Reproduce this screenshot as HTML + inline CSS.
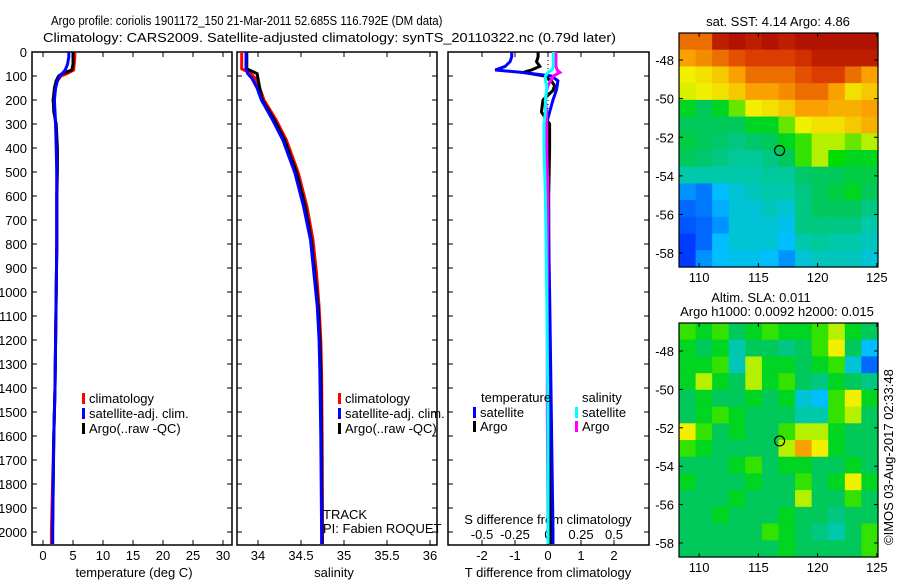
<!DOCTYPE html>
<html><head><meta charset="utf-8"><style>
html,body{margin:0;padding:0;background:#fff;}
svg text{font-family:"Liberation Sans",sans-serif;font-size:13px;fill:#000;}
</style></head><body>
<svg id="fig" width="900" height="580" viewBox="0 0 900 580" xmlns="http://www.w3.org/2000/svg">
<rect width="900" height="580" fill="#fff"/>
<text x="0" y="0" transform="translate(51,25) scale(0.88,1)">Argo profile: coriolis 1901172_150 21-Mar-2011 52.685S 116.792E (DM data)</text>
<text x="43" y="42" textLength="573" lengthAdjust="spacingAndGlyphs">Climatology: CARS2009. Satellite-adjusted climatology: synTS_20110322.nc (0.79d later)</text>
<g id="layer"></g>
</svg>
<script>
// ---- profile data ----
const depths = [0,20,50,75,90,100,120,150,200,250,300,400,500,600,800,1000,1200,1400,1600,1800,2000,2050];
const tempClim = [5.3,5.3,5.2,5.1,4.0,3.0,2.4,2.0,1.7,1.9,2.1,2.3,2.3,2.3,2.3,2.2,2.1,2.0,1.8,1.6,1.4,1.4];
const tempSat  = [4.3,4.3,4.1,3.7,3.2,2.8,2.4,2.1,1.9,2.0,2.1,2.2,2.3,2.3,2.3,2.2,2.1,2.0,1.8,1.7,1.6,1.6];
const tempArgo = [5.0,5.0,5.0,4.8,3.2,2.6,2.2,1.9,1.7,1.8,2.2,2.4,2.4,2.3,2.3,2.2,2.1,2.0,1.8,1.7,1.6,1.6];
const salDepths = [0,30,70,90,110,150,200,283,367,505,645,783,922,1062,1200,1340,1600,2000,2050];
const salClim = [33.81,33.81,33.81,33.92,33.97,34.02,34.07,34.21,34.33,34.47,34.57,34.64,34.68,34.71,34.73,34.74,34.745,34.75,34.75];
const salSat  = [33.86,33.86,33.86,33.88,33.93,33.99,34.04,34.17,34.29,34.43,34.53,34.61,34.65,34.69,34.71,34.72,34.73,34.74,34.74];
const salArgo = [33.87,33.87,33.87,33.99,34.0,34.02,34.05,34.19,34.31,34.45,34.55,34.62,34.66,34.70,34.72,34.73,34.74,34.745,34.745];
const diffDepths = [0,20,40,60,75,85,100,120,140,160,200,250,300,350,400,600,1000,1500,2000,2050];
const diffTSat  = [-1.1,-1.1,-1.15,-1.3,-1.6,-0.8,0.1,0.3,0.28,0.25,0.15,0.05,-0.05,-0.1,-0.05,0,0.05,0.1,0.15,0.15];
const diffTArgo = [-0.3,-0.3,-0.35,-0.25,-0.5,-0.75,-0.1,0.1,0.2,0.15,-0.15,-0.2,0.05,0.05,0.05,0.02,0.03,0.05,0.08,0.08];
const diffSSat  = [0.04,0.04,0.04,0.04,0.03,0.0,-0.02,-0.02,-0.01,-0.01,-0.02,-0.02,-0.03,-0.03,-0.03,-0.02,-0.01,0,0,0];
const diffSArgo = [0.06,0.06,0.06,0.06,0.07,0.09,0.04,0.02,0.0,-0.01,-0.02,-0.01,-0.01,-0.01,-0.01,0,-0.005,-0.005,0,0];
const depthTicks = [0,100,200,300,400,500,600,700,800,900,1000,1100,1200,1300,1400,1500,1600,1700,1800,1900,2000];
const tempTicks = [0,5,10,15,20,25,30];
const salTicks = [34,34.5,35,35.5,36];
const salTickLabels = ["34","34.5","35","35.5","36"];
const tdiffTicks = [-2,-1,0,1,2];
const sdiffTicks = [-0.5,-0.25,0,0.25,0.5];
const sdiffTickLabels = ["-0.5","-0.25","0","0.25","0.5"];
// ---- map data (0..1 colour scale), rows north->south, cols west->east ----
const sstGrid = [
[0.85,0.85,0.95,0.97,0.95,0.97,0.95,0.97,0.97,0.97,0.97,0.97],
[0.8,0.82,0.85,0.88,0.9,0.9,0.9,0.92,0.95,0.95,0.95,0.95],
[0.7,0.72,0.75,0.8,0.85,0.85,0.85,0.88,0.9,0.9,0.85,0.8],
[0.68,0.7,0.72,0.75,0.8,0.8,0.82,0.85,0.85,0.8,0.72,0.75],
[0.55,0.5,0.55,0.62,0.7,0.72,0.75,0.8,0.8,0.78,0.78,0.8],
[0.5,0.5,0.5,0.5,0.55,0.55,0.62,0.7,0.72,0.72,0.75,0.78],
[0.52,0.5,0.48,0.45,0.48,0.5,0.55,0.6,0.65,0.65,0.62,0.65],
[0.5,0.48,0.45,0.42,0.42,0.45,0.5,0.6,0.65,0.58,0.55,0.55],
[0.4,0.4,0.4,0.4,0.4,0.42,0.42,0.48,0.5,0.5,0.52,0.52],
[0.25,0.22,0.3,0.35,0.38,0.4,0.4,0.45,0.5,0.52,0.55,0.5],
[0.2,0.22,0.28,0.35,0.35,0.38,0.35,0.45,0.5,0.5,0.5,0.45],
[0.18,0.2,0.25,0.35,0.35,0.35,0.32,0.45,0.45,0.45,0.45,0.4],
[0.15,0.2,0.3,0.35,0.35,0.35,0.3,0.4,0.42,0.4,0.4,0.38],
[0.15,0.25,0.3,0.32,0.32,0.3,0.25,0.35,0.38,0.38,0.38,0.35]];
const slaGrid = [
[0.6,0.55,0.6,0.5,0.55,0.6,0.55,0.55,0.6,0.65,0.55,0.5],
[0.55,0.5,0.55,0.4,0.5,0.5,0.45,0.5,0.6,0.7,0.5,0.3],
[0.55,0.55,0.6,0.38,0.65,0.55,0.55,0.5,0.55,0.6,0.35,0.2],
[0.55,0.65,0.55,0.5,0.65,0.55,0.6,0.5,0.45,0.55,0.5,0.45],
[0.5,0.55,0.5,0.5,0.55,0.5,0.55,0.35,0.3,0.6,0.7,0.55],
[0.5,0.55,0.6,0.55,0.5,0.5,0.5,0.4,0.4,0.6,0.65,0.5],
[0.7,0.6,0.5,0.55,0.5,0.5,0.6,0.65,0.65,0.55,0.5,0.5],
[0.6,0.55,0.5,0.5,0.5,0.5,0.65,0.8,0.7,0.55,0.5,0.5],
[0.5,0.5,0.5,0.55,0.6,0.5,0.55,0.55,0.5,0.5,0.55,0.5],
[0.55,0.5,0.5,0.5,0.55,0.5,0.5,0.6,0.5,0.55,0.7,0.55],
[0.5,0.5,0.5,0.55,0.5,0.5,0.5,0.65,0.5,0.5,0.6,0.5],
[0.5,0.5,0.55,0.5,0.5,0.5,0.55,0.5,0.5,0.45,0.5,0.5],
[0.5,0.5,0.5,0.5,0.5,0.6,0.55,0.5,0.45,0.4,0.5,0.6],
[0.5,0.5,0.5,0.5,0.5,0.5,0.55,0.5,0.5,0.5,0.5,0.6]];
const lonTicks = [110,115,120,125];
const latTicks = [-48,-50,-52,-54,-56,-58];
const argoLon = 116.792, argoLat = -52.685;

const NS="http://www.w3.org/2000/svg";
const layer=document.getElementById('layer');
function mk(tag,attrs,parent){const e=document.createElementNS(NS,tag);for(const k in attrs)e.setAttribute(k,attrs[k]);(parent||layer).appendChild(e);return e;}
function txt(x,y,s,anchor,parent){const t=mk('text',{x:x,y:y,'text-anchor':anchor||'start'},parent);t.textContent=s;return t;}

const PT=52, PB=545;
const yD = d => PT + d*0.24;
const xT = v => 43 + v*6;
const xS = v => 258 + (v-34)*86;
const xTd = v => 548 + v*33;
const xSd = v => 548 + v*132;

function panel(x0,x1,name){
  const g=mk('g',{});
  
  
  mk('rect',{x:x0,y:PT,width:x1-x0,height:PB-PT,fill:'none',stroke:'#000','stroke-width':1.5},g);
  depthTicks.forEach(d=>{mk('line',{x1:x0,x2:x0+5,y1:yD(d),y2:yD(d),stroke:'#000'},g);mk('line',{x1:x1,x2:x1-5,y1:yD(d),y2:yD(d),stroke:'#000'},g);});
  return g;
}
function line(xs,ys,col,name,g,w){
  const pts=xs.map((v,i)=>v.toFixed(1)+','+ys[i].toFixed(1)).join(' ');
  const p=mk('polyline',{points:pts,fill:'none',stroke:col,'stroke-width':w||3,'stroke-linejoin':'miter'},g);
  
  
}
function legend(g,x,y,col,label){
  mk('rect',{x:x,y:y-10,width:3,height:11,fill:col},g);
  txt(x+7,y,label,'start',g);
}

// Panel 1
const g1=panel(32,232,'temperature-panel');
depthTicks.forEach(d=>{txt(27,yD(d)+5,String(d),'end',g1);});
tempTicks.forEach(v=>{mk('line',{x1:xT(v),x2:xT(v),y1:PT,y2:PT+5,stroke:'#000'},g1);mk('line',{x1:xT(v),x2:xT(v),y1:PB,y2:PB-5,stroke:'#000'},g1);txt(xT(v),560,String(v),'middle',g1);});
txt(134,577,'temperature (deg C)','middle',g1);
line(tempClim.map(xT),depths.map(yD),'#f00','temp-climatology-line',g1);
line(tempArgo.map(xT),depths.map(yD),'#000','temp-argo-line',g1);
line(tempSat.map(xT),depths.map(yD),'#00f','temp-satellite-line',g1);
legend(g1,82,403,'#f00','climatology');
legend(g1,82,418,'#00f','satellite-adj. clim.');
legend(g1,82,433,'#000','Argo(..raw -QC)');

// Panel 2
const g2=panel(237,437,'salinity-panel');
salTicks.forEach((v,i)=>{mk('line',{x1:xS(v),x2:xS(v),y1:PT,y2:PT+5,stroke:'#000'},g2);mk('line',{x1:xS(v),x2:xS(v),y1:PB,y2:PB-5,stroke:'#000'},g2);txt(xS(v),560,salTickLabels[i],'middle',g2);});
txt(334,577,'salinity','middle',g2);
line(salClim.map(xS),salDepths.map(yD),'#f00','sal-climatology-line',g2);
line(salArgo.map(xS),salDepths.map(yD),'#000','sal-argo-line',g2);
line(salSat.map(xS),salDepths.map(yD),'#00f','sal-satellite-line',g2);
legend(g2,338,403,'#f00','climatology');
legend(g2,338,418,'#00f','satellite-adj. clim.');
legend(g2,338,433,'#000','Argo(..raw -QC)');
txt(323,519,'TRACK','start',g2);
txt(323,533,'PI: Fabien ROQUET','start',g2);

// Panel 3
const g3=panel(448,649,'difference-panel');
tdiffTicks.forEach(v=>{mk('line',{x1:xTd(v),x2:xTd(v),y1:PT,y2:PT+5,stroke:'#000'},g3);mk('line',{x1:xTd(v),x2:xTd(v),y1:PB,y2:PB-5,stroke:'#000'},g3);txt(xTd(v),560,String(v),'middle',g3);});
sdiffTicks.forEach((v,i)=>{txt(xSd(v),539,sdiffTickLabels[i],'middle',g3);});
txt(548,524,'S difference from climatology','middle',g3);
txt(548,577,'T difference from climatology','middle',g3);
mk('line',{x1:548,x2:548,y1:PT,y2:150,stroke:'#000','stroke-dasharray':'1,3'},g3);
line(diffTArgo.map(xTd),diffDepths.map(yD),'#000','tdiff-argo-line',g3);
line(diffTSat.map(xTd),diffDepths.map(yD),'#00f','tdiff-satellite-line',g3);
line(diffSArgo.map(xSd),diffDepths.map(yD),'#f0f','sdiff-argo-line',g3);
line(diffSSat.map(xSd),diffDepths.map(yD),'#0ff','sdiff-satellite-line',g3);
txt(481,402,'temperature','start',g3);
txt(582,402,'salinity','start',g3);
legend(g3,473,417,'#00f','satellite');
legend(g3,473,431,'#000','Argo');
legend(g3,575,417,'#0ff','satellite');
legend(g3,575,431,'#f0f','Argo');

// colormap
const cmapStops=[[0,0,0,140],[0.15,0,60,255],[0.3,0,190,255],[0.4,0,200,170],[0.5,0,200,90],[0.58,0,220,0],[0.65,180,240,0],[0.7,240,240,0],[0.8,250,160,0],[0.9,220,60,0],[1,160,0,0]];
function jet(v){
  v=Math.max(0,Math.min(1,v));
  for(let i=1;i<cmapStops.length;i++){
    const a=cmapStops[i-1],b=cmapStops[i];
    if(v<=b[0]){const t=(v-a[0])/(b[0]-a[0]);
      return 'rgb('+[1,2,3].map(k=>Math.round(a[k]+(b[k]-a[k])*t)).join(',')+')';}
  }
  return 'rgb(160,0,0)';
}
function map(grid,x0,x1,y0,y1,latTop,latBot,name){
  const g=mk('g',{});
  
  
  const lonL=108.3, lonR=125.1;
  const xL=v=>x0+(v-lonL)/(lonR-lonL)*(x1-x0);
  const yL=v=>y0+(latTop-v)/(latTop-latBot)*(y1-y0);
  const nr=grid.length, nc=grid[0].length, cw=(x1-x0)/nc, ch=(y1-y0)/nr;
  grid.forEach((row,i)=>row.forEach((v,j)=>{
    const r=mk('rect',{x:(x0+j*cw).toFixed(2),y:(y0+i*ch).toFixed(2),width:(cw+0.6).toFixed(2),height:(ch+0.6).toFixed(2),fill:jet(v)},g);
    
    
  }));
  mk('rect',{x:x0,y:y0,width:x1-x0,height:y1-y0,fill:'none',stroke:'#000','stroke-width':1.2},g);
  lonTicks.forEach(v=>{mk('line',{x1:xL(v),x2:xL(v),y1:y1,y2:y1-4,stroke:'#000'},g);mk('line',{x1:xL(v),x2:xL(v),y1:y0,y2:y0+4,stroke:'#000'},g);txt(xL(v),y1+15,String(v),'middle',g);});
  latTicks.forEach(v=>{mk('line',{x1:x0,x2:x0+4,y1:yL(v),y2:yL(v),stroke:'#000'},g);mk('line',{x1:x1,x2:x1-4,y1:yL(v),y2:yL(v),stroke:'#000'},g);txt(x0-5,yL(v)+5,String(v),'end',g);});
  const c=mk('circle',{cx:xL(argoLon),cy:yL(argoLat),r:5,fill:'none',stroke:'#000','stroke-width':1.2},g);
  
  
}
map(sstGrid,679,878,33,267,-46.6,-58.72,'sst-map');
map(slaGrid,679,878,323,557,-46.54,-58.73,'sla-map');
const gt=mk('g',{});


txt(778,26,'sat. SST: 4.14 Argo: 4.86','middle',gt);
txt(761,302,'Altim. SLA: 0.011','middle',gt);
txt(777,316,'Argo h1000: 0.0092 h2000: 0.015','middle',gt);
const cp=txt(0,0,'©IMOS 03-Aug-2017 02:33:48','start',gt);
cp.setAttribute('transform','translate(893,545) rotate(-90)');


</script>
</body></html>
